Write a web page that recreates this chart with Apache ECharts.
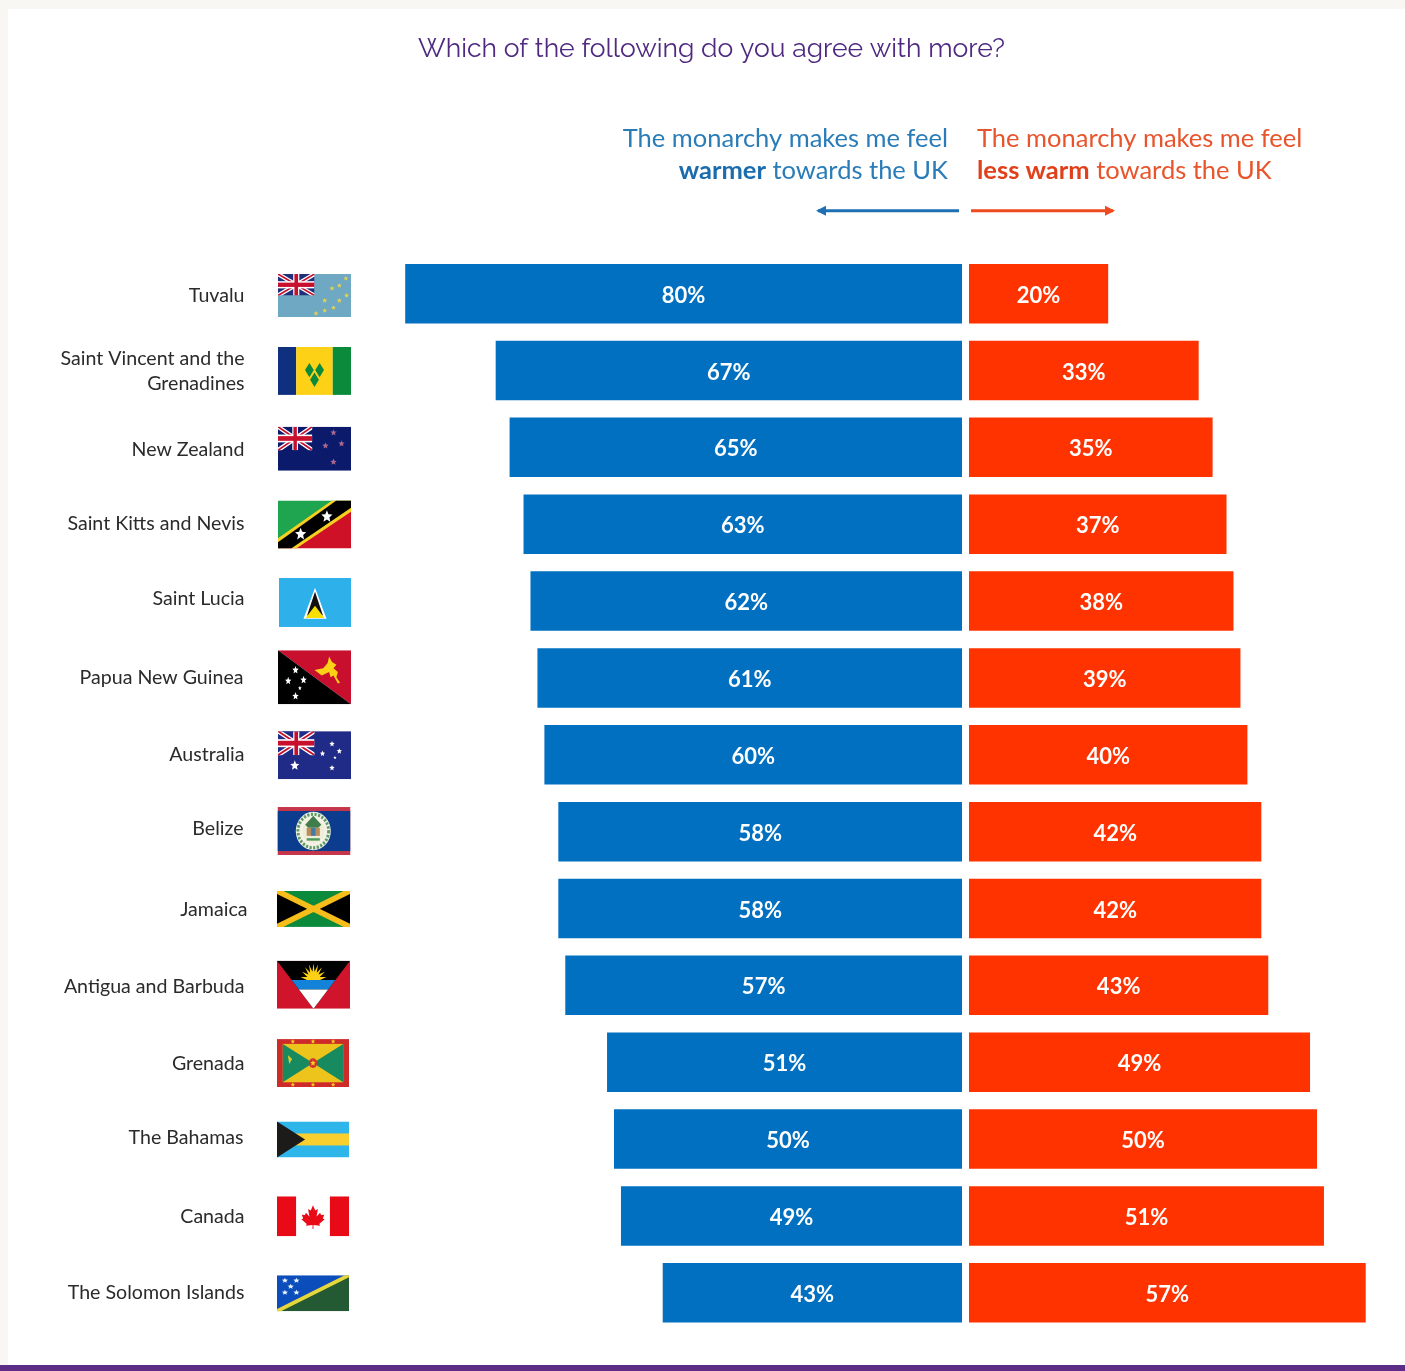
<!DOCTYPE html>
<html>
<head>
<meta charset="utf-8">
<style>html,body{margin:0;padding:0;background:#f8f7f3}#chart{width:1405px;height:1371px}</style>
<script src="https://cdn.jsdelivr.net/npm/echarts@6/dist/echarts.min.js"></script>
</head>
<body>
<div id="chart"></div>
<script>
const countries = ['Tuvalu','Saint Vincent and the\nGrenadines','New Zealand','Saint Kitts and Nevis','Saint Lucia','Papua New Guinea','Australia','Belize','Jamaica','Antigua and Barbuda','Grenada','The Bahamas','Canada','The Solomon Islands'];
const warmer = [80,67,65,63,62,61,60,58,58,57,51,50,49,43];
const lessWarm = [20,33,35,37,38,39,40,42,42,43,49,50,51,57];

const BLUE = '#0170c1', RED = '#ff3300';
const TOP = 255.2, HEIGHT = 1076, PX_PER_POINT = 6.96;
const SANS = 'Lato, "Open Sans", sans-serif';

// Row tweaks: name right edge, name and flag vertical nudges, flag box [x, width, height]
const nameRight = [244.5,244.5,244.5,244.5,244.5,243.5,244.5,243.5,247.5,244.5,244.5,243.5,244.5,244.5];
const nameNudge = [2,1,2,-1,-2,0,0,-3,1,1,1,-1,1,0];
const flagNudge = [1.9,0.4,1.4,0.4,1.4,-0.6,0.4,-0.6,0.4,-0.6,0.9,0.4,0.4,0.4];
const flagBox = [[278,73,43],[278,73,48],[278,73,44],[278,73,48],[279,72,49],[278,73,54],[278,73,48],[277.5,73,48],[277,73,36],[277,73,48],[277,72,48],[277,72,36],[277,72,40],[277,72,36]];

// Flag artwork on a 100x60 canvas
function star(cx, cy, r, fill) {
  let p = [];
  for (let i = 0; i < 10; i++) {
    const a = -Math.PI / 2 + i * Math.PI / 5, q = i % 2 ? r * 0.45 : r;
    p.push((cx + q * Math.cos(a)).toFixed(2) + ',' + (cy + q * Math.sin(a)).toFixed(2));
  }
  return `<polygon points="${p.join(' ')}" fill="${fill}"/>`;
}
const stars = (list, r, fill) => list.map(s => star(s[0], s[1], r, fill)).join('');
const rect = (x, y, w, h, f) => `<rect x="${x}" y="${y}" width="${w}" height="${h}" fill="${f}"/>`;
const poly = (pts, f) => `<polygon points="${pts}" fill="${f}"/>`;
function jack(w, h, blue) {
  return `<svg x="0" y="0" width="${w}" height="${h}" viewBox="0 0 60 30" preserveAspectRatio="none">` +
    rect(0,0,60,30,blue) +
    '<path d="M0,0L60,30M60,0L0,30" stroke="#fff" stroke-width="6"/>' +
    '<path d="M0,0L60,30M60,0L0,30" stroke="#c8102e" stroke-width="2.4"/>' +
    rect(25,0,10,30,'#fff') + rect(0,10,60,10,'#fff') +
    rect(27,0,6,30,'#c8102e') + rect(0,12,60,6,'#c8102e') + '</svg>';
}
// Half sunburst rising from a horizon line
function sun(cx, cy, inner, outer, rays, fill) {
  let p = [];
  for (let i = 0; i <= rays * 2; i++) {
    const a = Math.PI + i * Math.PI / (rays * 2), q = i % 2 ? outer : inner;
    p.push((cx + q * Math.cos(a)).toFixed(2) + ',' + (cy + q * 1.15 * Math.sin(a)).toFixed(2));
  }
  return poly(p.join(' '), fill);
}
const MAPLE = 'M50,6L45,17L39,14L42,30L34,22L32,27L25,26L28,34L24,36L36,46L34,50L49,48L49,57L51,57L51,48L66,50L64,46L76,36L72,34L75,26L68,27L66,22L58,30L61,14L55,17Z';
const flags = [
  rect(0,0,100,60,'#6fa8c2') + jack(50,30,'#1f2f7a') +
    stars([[93,6],[84,16],[74,20],[94,30],[84,37],[64,37],[76,47],[64,51],[52,55]],3.6,'#e3d24e'),
  rect(0,0,25,60,'#0f2f7f') + rect(25,0,50,60,'#fcd116') + rect(75,0,25,60,'#0a8a3a') +
    poly('43,20 37,29 43,38 49,29','#0a8a3a') + poly('57,20 51,29 57,38 63,29','#0a8a3a') + poly('50,32 44,41 50,50 56,41','#0a8a3a'),
  rect(0,0,100,60,'#0b1a6b') + jack(47,32,'#0b1a6b') +
    stars([[76,8],[65,26],[87,23],[76,48]],4.6,'#a9688f'),
  poly('0,0 100,0 0,60','#1fa550') + poly('100,60 100,0 0,60','#ce1126') +
    poly('0,47 74,0 100,0 100,14 25,60 0,60','#f6d020') + poly('0,52 80,0 100,0 100,9 18,60 0,60','#000') +
    stars([[31,42],[67,20]],8,'#fff'),
  rect(0,0,100,60,'#2eb1ea') + poly('50,12 34,50 66,50','#fff') + poly('50,17 39,46 61,46','#111') + poly('50,34 37,49 63,49','#f7e000'),
  poly('0,0 100,0 100,60','#c8102e') + poly('0,0 100,60 0,60','#000') +
    poly('50,22 62,20 68,14 70,7 74,13 80,16 76,20 82,24 80,30 85,36 82,37 76,28 72,30 70,24 60,28','#fcd116') +
    stars([[24,22],[14,34],[35,33],[24,51]],4.6,'#fff') + star(30,42,2.6,'#fff'),
  rect(0,0,100,60,'#1f2b86') + jack(50,30,'#1f2b86') +
    star(23,43,6.6,'#fff') + stars([[74,16],[61,28],[84,25],[74,46]],3.8,'#fff') + star(78,33,2.4,'#fff'),
  rect(0,0,100,60,'#c6364a') + rect(0,5,100,50,'#0b3c8e') +
    '<circle cx="49" cy="30" r="24" fill="#f4f2e4"/><circle cx="49" cy="30" r="21" fill="none" stroke="#5f9a6a" stroke-width="4" stroke-dasharray="3 2"/>' +
    '<circle cx="49" cy="30" r="15" fill="#efedd8"/>' + poly('38,22 49,11 60,22 56,26 42,26','#3f7d4b') + rect(40,26,18,10,'#b98c5a') + rect(46,26,6,10,'#3f7da8') + rect(40,39,18,3,'#4a9a5a'),
  rect(0,0,100,60,'#0a8a3a') + poly('0,0 50,30 0,60','#000') + poly('100,0 50,30 100,60','#000') +
    '<path d="M0,0L100,60M100,0L0,60" stroke="#f7bd1a" stroke-width="9"/>',
  rect(0,0,100,60,'#d0142c') + poly('0,0 100,0 50,60','#000') +
    sun(50,24,9,18,9,'#fcd116') +
    poly('20,24 80,24 70,36 30,36','#1283d8') + poly('30,36 70,36 50,60','#fff'),
  rect(0,0,100,60,'#cf2a2a') + rect(8,6,84,48,'#ecc41c') + poly('8,6 50,30 8,54','#178a60') + poly('92,6 50,30 92,54','#178a60') +
    '<circle cx="50" cy="30" r="6" fill="#d0342a"/>' + star(50,30,4,'#f6d020') +
    stars([[22,3],[50,3],[78,3],[22,57],[50,57],[78,57]],3.2,'#f6d020') + poly('15,20 21,25 17,31','#d9c92e'),
  rect(0,0,100,60,'#2eb5ea') + rect(0,20,100,20,'#f8cf2e') + poly('0,0 39,30 0,60','#1d1a1a'),
  rect(0,0,100,60,'#fff') + rect(0,0,26.5,60,'#e80b17') + rect(73.5,0,26.5,60,'#e80b17') +
    `<g transform="translate(50 31) scale(.62 .7) translate(-50 -31)"><path d="${MAPLE}" fill="#e80b17"/></g>`,
  poly('0,0 100,0 0,60','#0a4dbb') + poly('100,60 100,0 0,60','#235a33') +
    '<path d="M0,60L100,0" stroke="#e8d63a" stroke-width="6"/>' +
    stars([[11,9],[27,9],[19,19],[11,29],[27,29]],4.6,'#e8f2ff')
];
const flagUri = art => 'data:image/svg+xml;charset=utf-8,' + encodeURIComponent(
  `<svg xmlns="http://www.w3.org/2000/svg" width="300" height="180" viewBox="0 0 100 60" preserveAspectRatio="none">${art}</svg>`);

function side(name, values, color) {
  return {
    name, type: 'bar', barWidth: 59.5, itemStyle: { color },
    label: { show: true, position: 'inside', offset: [0, 2], formatter: '{c}%', color: '#fff', fontFamily: SANS, fontWeight: 700, fontSize: 22 },
    data: values, silent: true
  };
}
const hiddenCategory = gridIndex => ({ type: 'category', gridIndex, inverse: true, data: countries, show: false });
const hiddenValue = (gridIndex, max, inverse) => ({ type: 'value', gridIndex, min: 0, max, inverse, show: false });

// Header with a bold lead word on its second line
function header(x, align, color, strong, lines) {
  return {
    type: 'text', x, y: 123, silent: true,
    style: {
      text: lines, align, fill: color, fontFamily: SANS, fontSize: 25.5, lineHeight: 32,
      rich: { b: { fontWeight: 700, fontSize: 25.5, fontFamily: SANS, fill: strong, lineHeight: 32 },
              n: { fontSize: 25.5, fontFamily: SANS, fill: color, lineHeight: 32 } }
    }
  };
}
function arrow(x1, x2, tipDir, color) {
  const tip = tipDir < 0 ? x1 : x2;
  return [
    { type: 'rect', silent: true, shape: { x: x1, y: 209.2, width: x2 - x1, height: 3 }, style: { fill: color } },
    { type: 'polygon', silent: true, shape: { points: [[tip + tipDir * 2, 210.7], [tip - tipDir * 8, 205.7], [tip - tipDir * 8, 215.7]] }, style: { fill: color } }
  ];
}

const chart = echarts.init(document.getElementById('chart'), null, { renderer: 'canvas' });
chart.setOption({
  animation: false,
  backgroundColor: '#f8f7f3',
  title: {
    text: 'Which of the following do you agree with more?', left: 706.5, top: 31, textAlign: 'center',
    textStyle: { color: '#4f2a80', fontFamily: 'Raleway, Lato, sans-serif', fontWeight: 400, fontSize: 26.5 }
  },
  graphic: { elements: [
    { type: 'rect', silent: true, z: -10, shape: { x: 8, y: 9, width: 1397, height: 1356 }, style: { fill: '#fff' } },
    { type: 'rect', silent: true, z: -10, shape: { x: 0, y: 1365, width: 1405, height: 6 }, style: { fill: '#5b2d86' } },
    header(948, 'right', '#2a7cb8', '#1a6cae', '{n|The monarchy makes me feel}\n{b|warmer}{n| towards the UK}'),
    header(977, 'left', '#e8542c', '#e0401a', '{n|The monarchy makes me feel}\n{b|less warm}{n| towards the UK}'),
    ...arrow(818, 959, -1, '#1f6fb5'),
    ...arrow(971, 1113, 1, '#ee4a1e')
  ] },
  grid: [
    { left: 962 - 80 * PX_PER_POINT, width: 80 * PX_PER_POINT, top: TOP, height: HEIGHT },
    { left: 969, width: 60 * PX_PER_POINT, top: TOP, height: HEIGHT },
    { left: 0, width: 400, top: TOP, height: HEIGHT }
  ],
  xAxis: [hiddenValue(0, 80, true), hiddenValue(1, 60, false), hiddenValue(2, 400, false)],
  yAxis: [hiddenCategory(0), hiddenCategory(1), hiddenCategory(2)],
  series: [
    { ...side('warmer', warmer, BLUE), xAxisIndex: 0, yAxisIndex: 0 },
    { ...side('less warm', lessWarm, RED), xAxisIndex: 1, yAxisIndex: 1 },
    {
      name: 'countries', type: 'custom', xAxisIndex: 2, yAxisIndex: 2, silent: true,
      data: countries.map((c, i) => [0, c]),
      encode: { x: 0, y: 1 },
      renderItem(params, api) {
        const i = params.dataIndex;
        const cy = api.coord([0, countries[i]])[1];
        const [x, w, h] = flagBox[i];
        return { type: 'group', children: [
          { type: 'image', style: { image: flagUri(flags[i]), x, y: cy + flagNudge[i] - h / 2, width: w, height: h } },
          { type: 'text', style: {
              text: countries[i], x: nameRight[i], y: cy + nameNudge[i], align: 'right', verticalAlign: 'middle',
              fill: '#2b2b2b', fontFamily: SANS, fontSize: 19.6, lineHeight: 25 } }
        ] };
      }
    }
  ]
});
</script>
</body>
</html>
